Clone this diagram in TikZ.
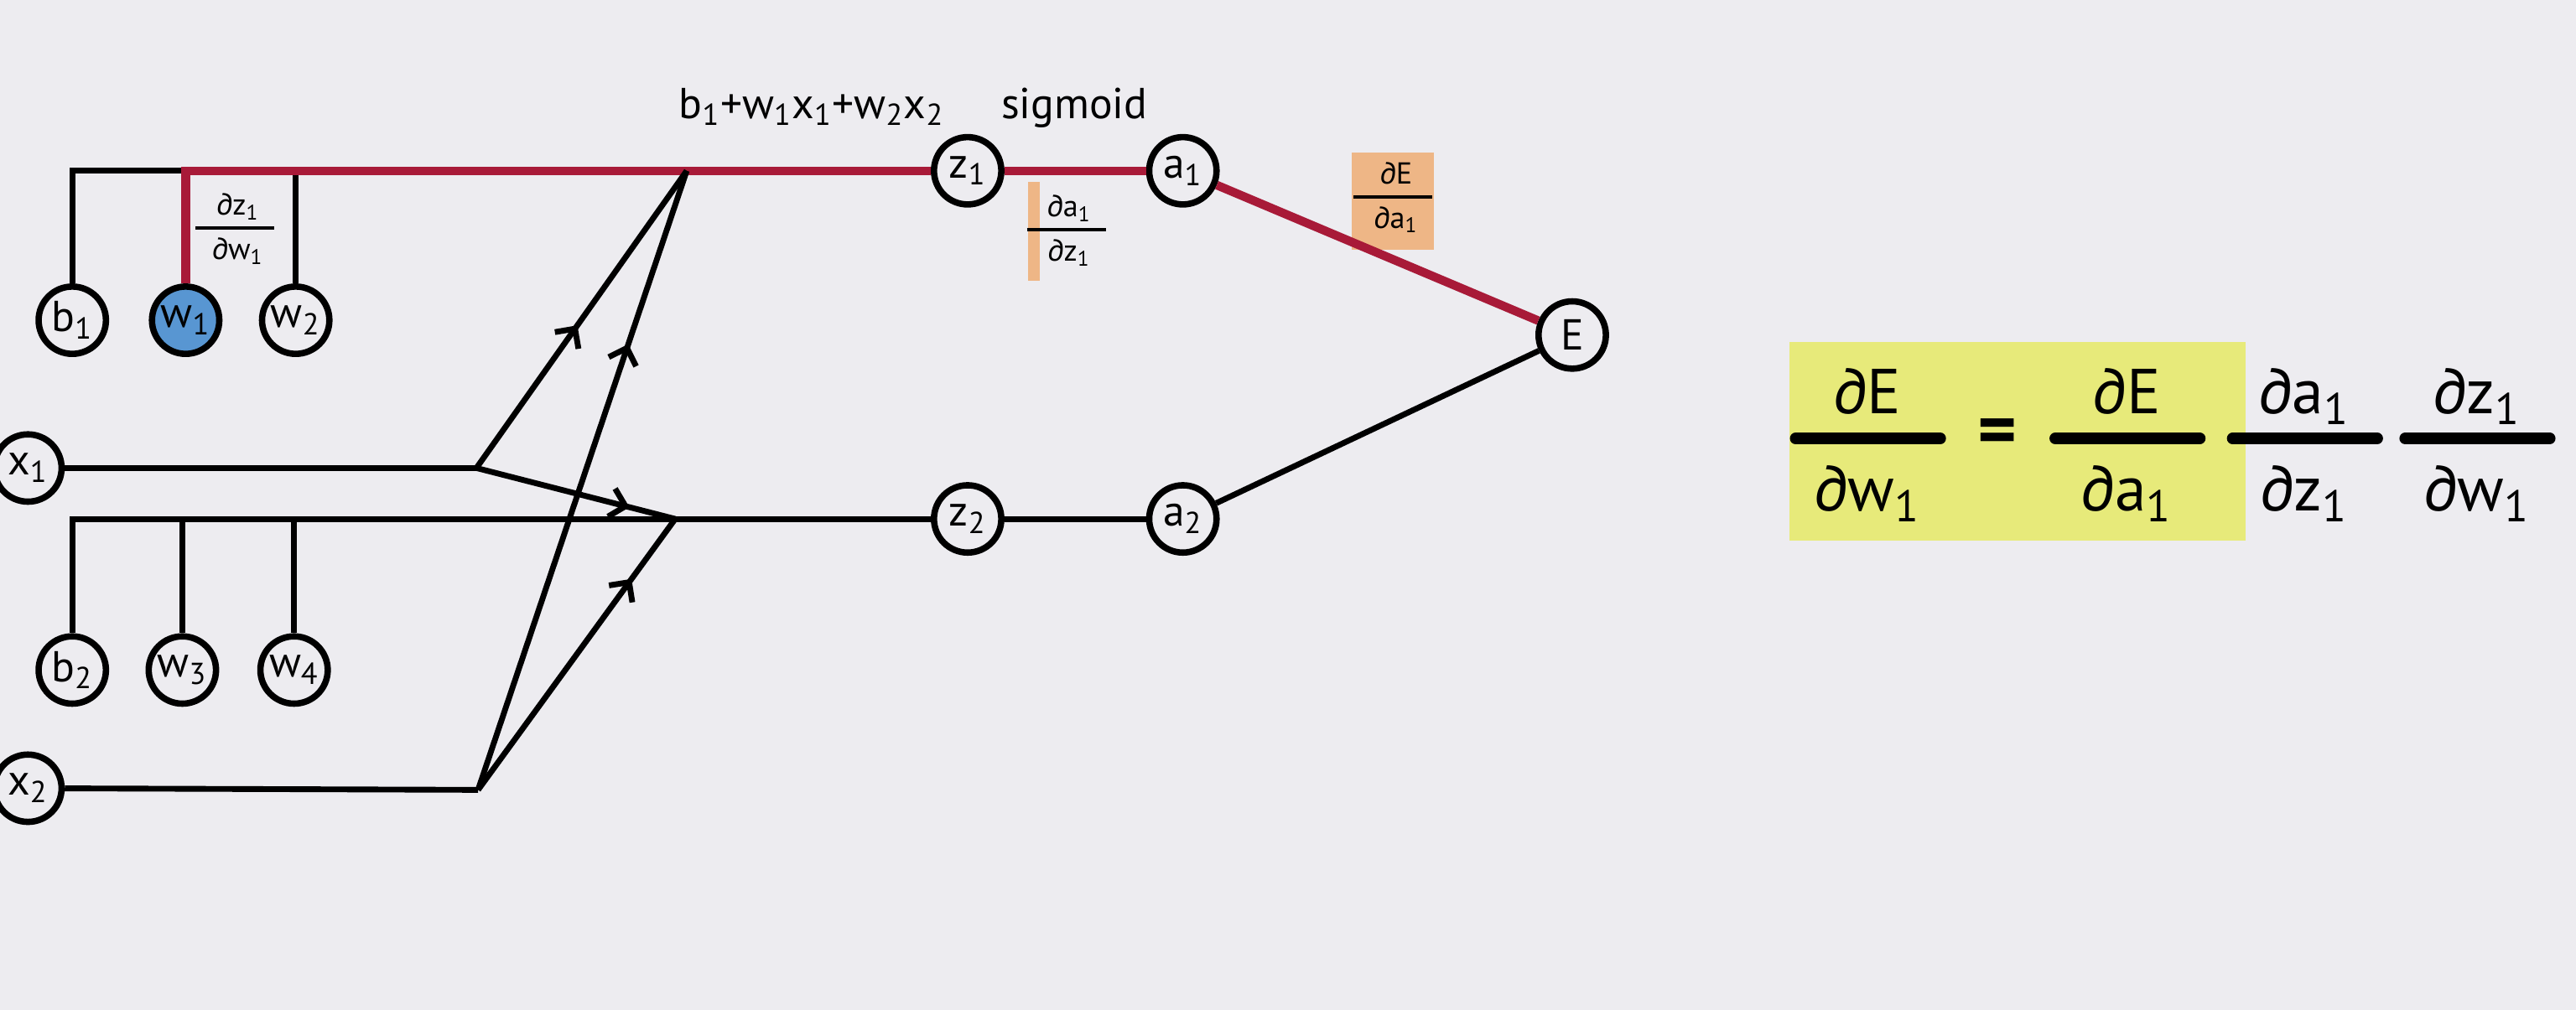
\documentclass[tikz,border=0pt]{standalone}
\usepackage{fontspec}
\setmainfont{PT Sans}
\usetikzlibrary{positioning, arrows.meta, decorations.markings}
\definecolor{bgcol}{RGB}{237,236,240}
\definecolor{hotred}{RGB}{168,26,56}
\definecolor{wblue}{RGB}{88,150,210}
\definecolor{peach}{RGB}{238,182,134}
\definecolor{lemon}{RGB}{231,234,122}
\newcommand{\ix}[1]{\textsubscript{#1}}

\tikzset{
  unit/.style={draw, circle, line width=2.2pt, minimum size=0.82cm, inner sep=0pt,
    font=\fontsize{15}{15}\selectfont},
  wire/.style={line width=2pt, black},
  hot/.style={line width=3pt, hotred},
  smalltxt/.style={inner sep=0pt, font=\fontsize{10.5}{12}\selectfont},
  smallbar/.style={line width=1.1pt},
  bigtxt/.style={inner sep=0pt, font=\fontsize{22}{24}\selectfont},
  fracbar/.style={line width=4pt, line cap=round},
  midarrow/.style={postaction={decorate}, decoration={markings,
    mark=at position #1 with {\arrow{Straight Barb[length=5pt,width=10pt]}}}}
}

\begin{document}
\begin{tikzpicture}[x=0.02cm, y=-0.02cm]
  \useasboundingbox (0,0) rectangle (1568,615);
  \fill[bgcol] (0,0) rectangle (1568,615);

  % highlights
  \fill[lemon] (1089,208) rectangle (1367,329);
  \fill[peach] (823,93) rectangle (873,152);
  \fill[peach] (626,111) rectangle (633,171);

  % inputs and parameters
  \node[unit] (x1) at (17,285) {x\ix{1}};
  \node[unit] (x2) at (17,480) {x\ix{2}};
  \node[unit] (b1) at (44,195) {b\ix{1}};
  \node[unit, fill=wblue] (w1) at (113,195) {w\ix{1}};
  \node[unit] (w2) at (180,195) {w\ix{2}};
  \node[unit] (b2) at (44,408) {b\ix{2}};
  \node[unit] (w3) at (111,408) {w\ix{3}};
  \node[unit] (w4) at (179,408) {w\ix{4}};

  % hidden layer and error
  \node[unit] (z1) at (589,104) {z\ix{1}};
  \node[unit] (a1) at (720,104) {a\ix{1}};
  \node[unit] (z2) at (589,316) {z\ix{2}};
  \node[unit] (a2) at (720,316) {a\ix{2}};
  \node[unit] (E) at (957,204) {E};

  % split and merge points
  \coordinate (s1) at (290,285);
  \coordinate (s2) at (291,481);
  \coordinate (j1) at (418,104);
  \coordinate (j2) at (411,316);

  % labels
  \node[anchor=base, font=\fontsize{15}{16}\selectfont] (sumlbl) at (494,72) {b\ix{1}+w\ix{1}x\ix{1}+w\ix{2}x\ix{2}};
  \node[anchor=base, font=\fontsize{15}{16}\selectfont] (siglbl) at (654,72) {sigmoid};

  % local derivatives
  \foreach \cx/\cy/\num/\den [count=\i] in {143/139/∂z\ix{1}/∂w\ix{1},
      649/140/∂a\ix{1}/∂z\ix{1}, 848/120/∂E/∂a\ix{1}} {
    \node[smalltxt, anchor=base] (snum\i) at (\cx+2,\cy-8) {\num};
    \node[smalltxt, anchor=base] (sden\i) at (\cx+2,\cy+19) {\den};
    \draw[smallbar] (\cx-24,\cy) -- (\cx+24,\cy);
  }

  % connections
  \draw[wire] (b1) |- (z1);
  \draw[wire] (w2) -- (w2 |- z1);
  \draw[hot] (w1) |- (z1);
  \draw[wire] (b2) |- (z2);
  \draw[wire] (w3) -- (w3 |- z2);
  \draw[wire] (w4) -- (w4 |- z2);
  \draw[wire] (x1) -- (s1);
  \draw[wire] (x2) -- (s2);
  \draw[wire, midarrow=0.48] (s1) -- (j1);
  \draw[wire, midarrow=0.77] (s1) -- (j2);
  \draw[wire, midarrow=0.72] (s2) -- (j1);
  \draw[wire, midarrow=0.78] (s2) -- (j2);
  \draw[hot] (z1) -- (a1);
  \draw[hot] (a1) -- (E);
  \draw[wire] (z2) -- (a2);
  \draw[wire] (a2) -- (E);

  % chain rule
  \foreach \cx/\num/\den [count=\i] in {1137/∂E/∂w\ix{1}, 1295/∂E/∂a\ix{1},
      1403/∂a\ix{1}/∂z\ix{1}, 1508/∂z\ix{1}/∂w\ix{1}} {
    \node[bigtxt, anchor=base] (num\i) at (\cx,252) {\num};
    \node[bigtxt, anchor=base] (den\i) at (\cx,311) {\den};
    \draw[fracbar] (\cx-44,267) -- (\cx+44,267);
  }
  \node[bigtxt, font=\fontsize{26}{28}\selectfont\bfseries] (eq) at (1216,266) {=};
\end{tikzpicture}
\end{document}
